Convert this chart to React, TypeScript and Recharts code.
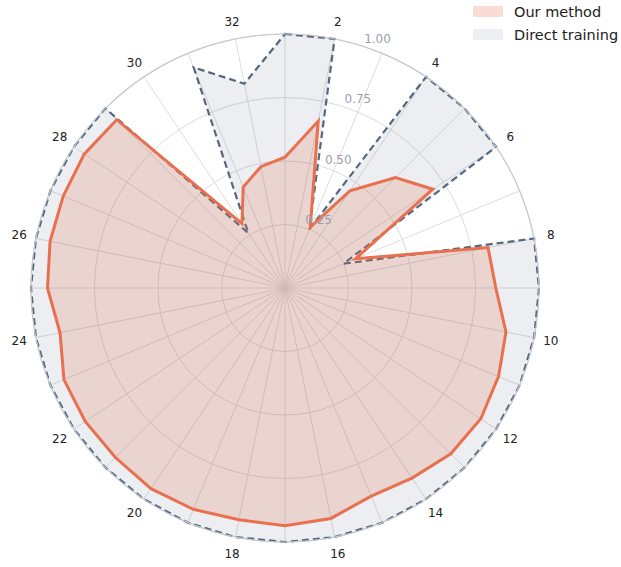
import { RadarChart, Radar, PolarGrid, PolarAngleAxis, PolarRadiusAxis } from 'recharts'

const categories = [
  '1', '2', '3', '4', '5', '6', '7', '8', '9', '10', '11', '12', '13', '14', '15', '16',
  '17', '18', '19', '20', '21', '22', '23', '24', '25', '26', '27', '28', '29', '30', '31', '32',
]

const ourMethod = [
  0.515, 0.67, 0.26, 0.46, 0.615, 0.7, 0.3, 0.815, 0.83, 0.887, 0.91, 0.927, 0.923, 0.9, 0.887, 0.925,
  0.936, 0.93, 0.943, 0.95, 0.944, 0.946, 0.942, 0.903, 0.935, 0.943, 0.945, 0.95, 0.937, 0.305, 0.43, 0.487,
]

const directTraining = [
  1, 1, 0.25, 1, 1, 1, 0.25, 1, 1, 1, 1, 1, 1, 1, 1, 1,
  1, 1, 1, 1, 1, 1, 1, 1, 1, 1, 1, 1, 1, 0.26, 0.94, 0.82,
]

const radiusTicks = [0.25, 0.5, 0.75, 1]

const seriesNames = ['Our method', 'Direct training']

const data = categories.map((cat, i) => ({
  cat,
  ours: ourMethod[i],
  direct: directTraining[i],
}))

const FONT = '"DejaVu Sans", sans-serif'
const CX = 285
const CY = 288
const OUTER = 254
const ORANGE = '#E8704F'
const SLATE = '#56677D'

function AngleTick(props: any) {
  const { payload } = props
  if (Number(payload.value) % 2 !== 0) return null
  const rad = (-payload.coordinate * Math.PI) / 180
  const r = OUTER + 17
  const x = CX + Math.cos(rad) * r
  const y = CY + Math.sin(rad) * r
  return (
    <text x={x} y={y} textAnchor="middle" dominantBaseline="central" fontSize={12} fontFamily={FONT} fill="#222">
      {payload.value}
    </text>
  )
}

function RadiusTick(props: any) {
  const { x, y, payload } = props
  return (
    <text x={x + 14} y={y - 7.5} textAnchor="middle" dominantBaseline="central" fontSize={12} fontFamily={FONT} fill="#9A9FAB">
      {Number(payload.value).toFixed(2)}
    </text>
  )
}

export default function App() {
  const swatches = [
    { name: seriesNames[0], color: '#F9DDD5' },
    { name: seriesNames[1], color: '#EDEEF1' },
  ]
  return (
    <div style={{ position: 'relative', width: 621, height: 567 }}>
      <style>{'body{margin:0}'}</style>
      <RadarChart
        width={621}
        height={567}
        data={data}
        cx={CX}
        cy={CY}
        outerRadius={OUTER}
        margin={{ top: 0, right: 0, bottom: 0, left: 0 }}
      >
        <PolarGrid gridType="circle" stroke="#DCDCDC" />
        <PolarAngleAxis
          dataKey="cat"
          tick={AngleTick}
          tickLine={false}
          axisLineType="circle"
          axisLine={{ stroke: '#C4C8CF', strokeWidth: 1.2 }}
        />
        <PolarRadiusAxis
          angle={72}
          domain={[0, 1]}
          ticks={radiusTicks}
          tick={RadiusTick}
          axisLine={false}
          tickLine={false}
        />
        <Radar
          name={seriesNames[1]}
          dataKey="direct"
          stroke={SLATE}
          strokeWidth={2.2}
          strokeDasharray="7 4"
          fill={SLATE}
          fillOpacity={0.11}
          dot={false}
          isAnimationActive={false}
        />
        <Radar
          name={seriesNames[0]}
          dataKey="ours"
          stroke={ORANGE}
          strokeWidth={3}
          fill={ORANGE}
          fillOpacity={0.2}
          dot={false}
          isAnimationActive={false}
        />
      </RadarChart>
      <div style={{ position: 'absolute', left: 473, top: 0, fontFamily: FONT, fontSize: 14.5, color: '#222' }}>
        {swatches.map((s) => (
          <div key={s.name} style={{ display: 'flex', alignItems: 'center', height: 23 }}>
            <span style={{ display: 'inline-block', width: 30, height: 11, background: s.color, marginRight: 11 }} />
            <span>{s.name}</span>
          </div>
        ))}
      </div>
    </div>
  )
}
